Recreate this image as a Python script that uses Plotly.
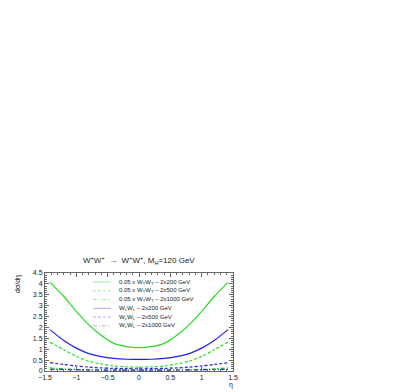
import plotly.graph_objects as go

# ── Data ──────────────────────────────────────────────────────────────────────
eta = [-1.42, -1.2, -1.0, -0.8, -0.6, -0.4, -0.2, 0.0,
       0.2, 0.4, 0.6, 0.8, 1.0, 1.2, 1.42]

t200 = [4.07, 3.42, 2.74, 2.12, 1.63, 1.27, 1.12, 1.07,
        1.12, 1.27, 1.63, 2.12, 2.74, 3.42, 4.07]
t500 = [1.32, 0.98, 0.67, 0.45, 0.32, 0.23, 0.19, 0.18,
        0.19, 0.23, 0.32, 0.45, 0.67, 0.98, 1.32]
t1000 = [0.14, 0.10, 0.07, 0.055, 0.045, 0.04, 0.035, 0.035,
         0.035, 0.04, 0.045, 0.055, 0.07, 0.10, 0.14]
l200 = [1.90, 1.40, 1.05, 0.80, 0.66, 0.58, 0.54, 0.53,
        0.54, 0.58, 0.66, 0.80, 1.05, 1.40, 1.90]
l500 = [0.38, 0.30, 0.23, 0.18, 0.14, 0.12, 0.11, 0.10,
        0.11, 0.12, 0.14, 0.18, 0.23, 0.30, 0.38]
l1000 = [0.08, 0.07, 0.06, 0.05, 0.045, 0.04, 0.04, 0.04,
         0.04, 0.04, 0.045, 0.05, 0.06, 0.07, 0.08]

x_ticks = [-1.5, -1, -0.5, 0, 0.5, 1, 1.5]
y_ticks = [0, 0.5, 1, 1.5, 2, 2.5, 3, 3.5, 4, 4.5]

names = [
    "0.05 x W<sub>T</sub>W<sub>T</sub> – 2x200 GeV",
    "0.05 x W<sub>T</sub>W<sub>T</sub> – 2x500 GeV",
    "0.05 x W<sub>T</sub>W<sub>T</sub> – 2x1000 GeV",
    "W<sub>L</sub>W<sub>L</sub> – 2x200 GeV",
    "W<sub>L</sub>W<sub>L</sub> – 2x500 GeV",
    "W<sub>L</sub>W<sub>L</sub> – 2x1000 GeV",
]
series = [t200, t500, t1000, l200, l500, l1000]

GREEN = "#22dd22"
BLUE = "#2020ee"
colors = [GREEN, GREEN, GREEN, BLUE, BLUE, BLUE]
dashes = ["solid", "3px,2px", "4px,2px,1px,2px", "solid", "3px,2px", "4px,2px,1px,2px"]
key_colors = ["#99ee99", "#99ee99", "#99ee99", "#aaaaff", "#aaaaff", "#aaaaff"]

FONT = "Liberation Sans, Arial, sans-serif"

fig = go.Figure()
for ys, c, d, n in zip(series, colors, dashes, names):
    fig.add_trace(go.Scatter(
        x=eta, y=ys, mode="lines", name=n, showlegend=False,
        line=dict(color=c, width=1.2, dash=d, shape="spline", smoothing=0.8),
    ))

# hand-made compact legend (plotly's legend rows are too tall for this size)
row0, step = 0.908, 0.0895
for i, (n, kc, d) in enumerate(zip(names, key_colors, dashes)):
    yy = row0 - i * step
    fig.add_shape(type="line", xref="x domain", yref="y domain",
                  x0=0.255, x1=0.35, y0=yy, y1=yy,
                  line=dict(color=kc, width=1, dash=d))
    fig.add_annotation(text=n, xref="x domain", yref="y domain",
                       x=0.385, y=yy, xanchor="left", yanchor="middle",
                       showarrow=False, font=dict(size=6, color="#222", family=FONT))

fig.add_annotation(
    text="W<sup>+</sup>W<sup>+</sup>  →  W<sup>+</sup>W<sup>+</sup>, M<sub>H</sub>=120 GeV",
    xref="paper", yref="paper", x=0.5, y=1.0, yshift=5,
    xanchor="center", yanchor="bottom", showarrow=False,
    font=dict(size=8, color="#222", family=FONT))
fig.add_annotation(text="dσ/dη", xref="paper", yref="paper", x=0, y=1,
                   xshift=-27, yanchor="top", xanchor="center", textangle=-90,
                   showarrow=False, font=dict(size=7, color="#222", family=FONT))
fig.add_annotation(text="η", xref="paper", yref="paper", x=1, y=0,
                   xshift=-2, yshift=-14, xanchor="center", yanchor="middle",
                   showarrow=False, font=dict(size=7, color="#222", family=FONT))

axis_common = dict(
    showgrid=False, zeroline=False, showline=True, linecolor="#666", linewidth=1,
    mirror="allticks", ticks="inside", ticklen=4, tickcolor="#666",
    tickfont=dict(size=7, color="#222", family=FONT), automargin=False,
)
fig.update_xaxes(range=[-1.5, 1.5], tickmode="array", tickvals=x_ticks,
                 ticktext=[f"{v:g}".replace("-", "−") for v in x_ticks], tickangle=0,
                 minor=dict(dtick=0.1, ticks="inside", ticklen=2, tickcolor="#666"),
                 **axis_common)
fig.update_yaxes(range=[0, 4.5], tickmode="array", tickvals=y_ticks,
                 ticktext=[f"{v:g}" for v in y_ticks],
                 minor=dict(dtick=0.1, ticks="inside", ticklen=2, tickcolor="#666"),
                 **axis_common)

fig.update_layout(
    width=407, height=392,
    margin=dict(l=37, r=182, t=265, b=29),
    paper_bgcolor="white", plot_bgcolor="white",
    showlegend=False,
    font=dict(family=FONT),
)

fig.write_html("out.html")
